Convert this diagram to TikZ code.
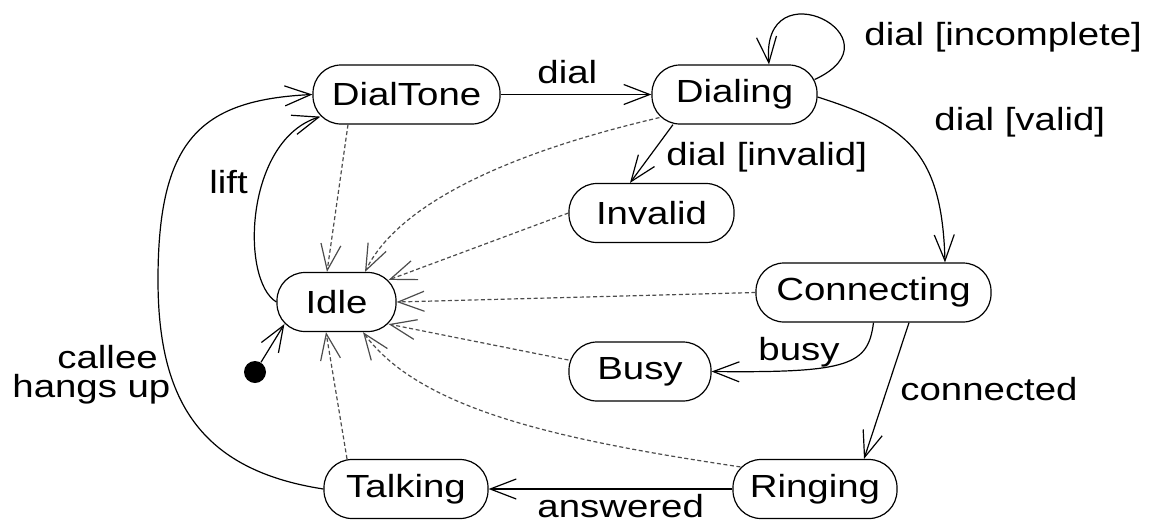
\documentclass[tikz,border=0pt]{standalone}
\usepackage{fontspec}
\setmainfont{Liberation Sans}[FakeStretch=1.2]
\usetikzlibrary{arrows.meta,calc}
\begin{document}
\begin{tikzpicture}[x=0.5pt,y=-0.5pt,
  txt/.style={font=\fontsize{16}{14.5}\selectfont},
  state/.style={draw, line width=0.6pt, rounded corners=14pt, minimum height=29.5pt, inner sep=0pt, txt},
  lbl/.style={txt, inner sep=0pt},
  tr/.style={line width=0.6pt, -{Straight Barb[length=13pt,width=10pt,line width=0.6pt]}},
  back/.style={tr, black!70, dash pattern=on 2pt off 1.3pt}]
\useasboundingbox (0,0) rectangle (1151,521);
% states
\node[state, minimum width=93.5pt] (dialtone) at (406.5,94.5) {DialTone};
\node[state, minimum width=82.5pt] (dialing) at (734.5,94.5) {Dialing};
\node[state, minimum width=82.5pt] (invalid) at (651.5,213) {Invalid};
\node[state, minimum width=59.5pt] (idle) at (336.5,302) {Idle};
\node[state, minimum width=117.5pt] (connecting) at (873.5,292.5) {Connecting};
\node[state, minimum width=71pt] (busy) at (640,371.5) {Busy};
\node[state, minimum width=82pt] (ringing) at (815,489) {Ringing};
\node[state, minimum width=82pt] (talking) at (406,489) {Talking};
\node[circle, fill, inner sep=0pt, minimum size=11pt] (init) at (255,372) {};
% solid transitions
\draw[tr] (dialtone.east) -- (dialing.west);
\node[lbl, anchor=base west] (ldial) at (537,83) {dial};
\draw[tr] ($(dialing.east)+(-3,-15)$) .. controls (905,38) and (760,-35) .. ($(dialing.north)+(34.5,0)$);
\node[lbl, anchor=base west] (lincomplete) at (864,45) {dial [incomplete]};
\draw[tr] ($(dialing.south)+(-61.5,0)$) -- ($(invalid.north)+(-21.5,0)$);
\node[lbl, anchor=base west] (linvalid) at (666,165) {dial [invalid]};
\draw[tr] ($(dialing.east)+(0,2.5)$) .. controls (905,125) and (942,150) .. ($(connecting.north)+(71.5,0)$);
\node[lbl, anchor=base west] (lvalid) at (934,130) {dial [valid]};
\draw[tr] (init) -- ($(idle.south west)+(8,-8)$);
\draw[tr] (idle.west) .. controls (240,280) and (245,140) .. ($(dialtone.south west)+(8,-8)$);
\node[lbl, anchor=base west] (llift) at (209,193) {lift};
\draw[tr] (talking.west) .. controls (200,470) and (158,400) .. (158,280) .. controls (158,140) and (200,100) .. (dialtone.west);
\node[lbl, anchor=north west, align=left] (lcallee) at (12,345) {\hspace*{22.5pt}callee\\hangs up};
\draw[tr] (ringing.west) -- (talking.east);
\node[lbl, anchor=base west] (lanswered) at (537,517) {answered};
\draw[tr] (connecting.south) .. controls (868,365) and (850,373) .. (busy.east);
\node[lbl, anchor=base west] (lbusy) at (758,360) {busy};
\draw[tr] ($(connecting.south)+(35.5,0)$) -- ($(ringing.north)+(49,0)$);
\node[lbl, anchor=base west] (lconnected) at (900,400) {connected};
% dashed transitions back to Idle
\draw[back] ($(dialtone.south)+(-58.5,0)$) -- ($(idle.north)+(-9.5,0)$);
\draw[back] ($(dialing.south west)+(8,-7)$) .. controls (520,150) and (400,200) .. ($(idle.north)+(28.5,0)$);
\draw[back] (invalid.west) -- ($(idle.north east)+(-8,8)$);
\draw[back] (connecting.west) -- (idle.east);
\draw[back] ($(busy.west)+(0,-11.5)$) -- ($(idle.south east)+(-8,-8)$);
\draw[back] ($(ringing.north west)+(8,8)$) .. controls (560,440) and (420,410) .. ($(idle.south)+(26.5,0)$);
\draw[back] ($(talking.north)+(-59,0)$) -- ($(idle.south)+(-10.5,0)$);
\end{tikzpicture}
\end{document}
